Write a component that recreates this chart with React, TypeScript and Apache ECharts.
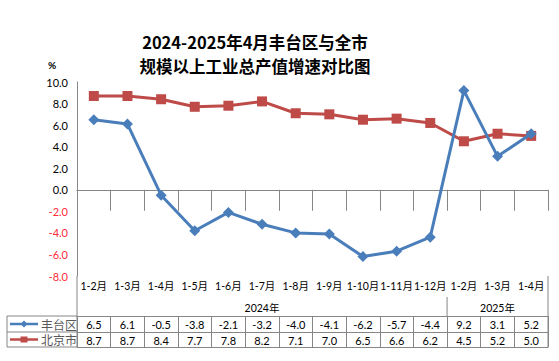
import React, { useEffect, useRef } from "react";
import * as echarts from "echarts";

const categories = ["1-2月", "1-3月", "1-4月", "1-5月", "1-6月", "1-7月", "1-8月", "1-9月", "1-10月", "1-11月", "1-12月", "1-2月", "1-3月", "1-4月"];
const years = ["2024年", "2025年"];
const yearSpans = [11, 3];
const fengtai = [6.5, 6.1, -0.5, -3.8, -2.1, -3.2, -4.0, -4.1, -6.2, -5.7, -4.4, 9.2, 3.1, 5.2];
const beijing = [8.7, 8.7, 8.4, 7.7, 7.8, 8.2, 7.1, 7.0, 6.5, 6.6, 6.2, 4.5, 5.2, 5.0];
const seriesNames = ["丰台区", "北京市"];
const yMin = -8;
const yMax = 10;
const yInterval = 2;
const titleLines = ["2024-2025年4月丰台区与全市", "规模以上工业总产值增速对比图"];
const unitText = "%";

const BLUE = "#4A7EBB";
const RED = "#BE4B48";
const GRID_LINE = "#868686";
const FONT = "Lato, 'Noto Sans CJK SC', sans-serif";
const TABLE_FS = 10.5;

export default function App() {
  const ref = useRef<HTMLDivElement>(null);
  useEffect(() => {
    const chart = echarts.init(ref.current!, null, { renderer: "svg" });
    const lineStyle = { color: GRID_LINE, width: 1 };
    const option: any = {
      animation: false,
      backgroundColor: "#ffffff",
      grid: { left: 77, right: 11, top: 82, bottom: 85, containLabel: false },
      xAxis: [
        {
          type: "category",
          data: categories,
          boundaryGap: true,
          position: "bottom",
          axisLine: { show: true, lineStyle },
          axisTick: { show: true, length: 21, lineStyle, interval: 0 },
          axisLabel: { interval: 0, margin: 5, fontSize: TABLE_FS, color: "#000", fontFamily: FONT, hideOverlap: false },
          splitLine: { show: false },
        },
        {
          type: "category",
          data: fengtai.map((v) => v.toFixed(1)),
          boundaryGap: true,
          position: "bottom",
          offset: 40,
          axisLine: { show: true, lineStyle },
          axisTick: { show: true, length: 16, lineStyle, interval: 0 },
          axisLabel: { interval: 0, margin: 3, fontSize: 11, color: "#000", fontFamily: FONT, hideOverlap: false },
        },
        {
          type: "category",
          data: beijing.map((v) => v.toFixed(1)),
          boundaryGap: true,
          position: "bottom",
          offset: 56,
          axisLine: { show: true, lineStyle },
          axisTick: { show: true, length: 15, lineStyle, interval: 0 },
          axisLabel: { interval: 0, margin: 3, fontSize: 11, color: "#000", fontFamily: FONT, hideOverlap: false },
        },
        {
          type: "category",
          data: categories.map(() => ""),
          boundaryGap: true,
          position: "bottom",
          offset: 71,
          axisLine: { show: true, lineStyle },
          axisTick: { show: false },
          axisLabel: { show: false },
        },
      ],
      yAxis: {
        type: "value",
        min: yMin,
        max: yMax,
        interval: yInterval,
        axisLine: { show: true, lineStyle },
        axisTick: { show: false },
        splitLine: { show: false },
        axisLabel: {
          margin: 9,
          fontSize: 11,
          fontFamily: FONT,
          formatter: (v: number) => v.toFixed(1),
          color: (v: any) => (Number(v) < 0 ? "#FF2A3A" : "#000000"),
        },
      },
      series: [
        {
          name: seriesNames[0],
          type: "line",
          data: fengtai,
          xAxisIndex: 0,
          symbol: "diamond",
          symbolSize: 11,
          lineStyle: { color: BLUE, width: 3 },
          itemStyle: { color: BLUE },
          z: 3,
        },
        {
          name: seriesNames[1],
          type: "line",
          data: beijing,
          xAxisIndex: 0,
          symbol: "rect",
          symbolSize: 10,
          lineStyle: { color: RED, width: 3 },
          itemStyle: { color: RED },
          z: 2,
        },
      ],
    };
    chart.setOption(option);

    const cx = (i: number) => chart.convertToPixel({ xAxisIndex: 0 }, i) as number;
    const band = cx(1) - cx(0);
    const leftB = cx(0) - band / 2;
    const rightB = cx(categories.length - 1) + band / 2;
    const yBase = chart.convertToPixel({ yAxisIndex: 0 }, yMin) as number;
    const catBottom = yBase + 21;
    const yearBottom = yBase + 40;
    const row1Bottom = yBase + 56;
    const row2Bottom = yBase + 71;
    const legendLeft = 7;

    const graphics: any[] = [];
    const ln = (x1: number, y1: number, x2: number, y2: number) =>
      graphics.push({ type: "line", shape: { x1, y1, x2, y2 }, style: { stroke: GRID_LINE, lineWidth: 1 }, silent: true });

    ln(leftB, yBase, leftB, row2Bottom);
    ln(rightB, yBase, rightB, row2Bottom);
    ln(legendLeft, yearBottom, leftB, yearBottom);
    ln(legendLeft, row1Bottom, leftB, row1Bottom);
    ln(legendLeft, row2Bottom, leftB, row2Bottom);
    ln(legendLeft, yearBottom, legendLeft, row2Bottom);

    let start = 0;
    years.forEach((yr, k) => {
      const s = start;
      const e = start + yearSpans[k] - 1;
      const x0 = cx(s) - band / 2;
      const x1 = cx(e) + band / 2;
      graphics.push({
        type: "text",
        x: (x0 + x1) / 2,
        y: (catBottom + yearBottom) / 2 + 1,
        style: { text: yr, fontSize: TABLE_FS, fontFamily: FONT, fill: "#000", align: "center", verticalAlign: "middle" },
        silent: true,
      });
      if (k > 0) ln(x0, catBottom, x0, yearBottom);
      start += yearSpans[k];
    });

    const rows = [
      { name: seriesNames[0], color: BLUE, y: (yearBottom + row1Bottom) / 2, symbol: "diamond" },
      { name: seriesNames[1], color: RED, y: (row1Bottom + row2Bottom) / 2, symbol: "rect" },
    ];
    rows.forEach((r) => {
      graphics.push({ type: "line", shape: { x1: 10, y1: r.y, x2: 38, y2: r.y }, style: { stroke: r.color, lineWidth: 2.5 }, silent: true });
      if (r.symbol === "diamond") {
        graphics.push({ type: "polygon", shape: { points: [[24, r.y - 3.5], [27.5, r.y], [24, r.y + 3.5], [20.5, r.y]] }, style: { fill: r.color }, silent: true });
      } else {
        graphics.push({ type: "rect", shape: { x: 20.5, y: r.y - 3, width: 7, height: 6 }, style: { fill: r.color }, silent: true });
      }
      graphics.push({
        type: "text",
        x: 41,
        y: r.y,
        style: { text: r.name, fontSize: 12, fontFamily: "'Noto Sans CJK SC', sans-serif", fill: "#595959", align: "left", verticalAlign: "middle" },
        silent: true,
      });
    });

    titleLines.forEach((t, i) => {
      graphics.push({
        type: "text",
        x: 255,
        y: 41.5 + i * 24.5,
        style: {
          text: t,
          fontSize: 16.5,
          fontWeight: "bold",
          fontFamily: "'Noto Sans CJK SC', sans-serif",
          fill: "#000",
          align: "center",
          verticalAlign: "middle",
        },
        silent: true,
      });
    });
    graphics.push({
      type: "text",
      x: 52,
      y: 65,
      style: { text: unitText, fontSize: 10, fontWeight: "bold", fontFamily: FONT, fill: "#000", align: "center", verticalAlign: "middle" },
      silent: true,
    });

    chart.setOption({ graphic: graphics });

    return () => chart.dispose();
  }, []);

  return <div ref={ref} style={{ position: "fixed", left: 0, top: 0, width: 559, height: 361 }} />;
}
